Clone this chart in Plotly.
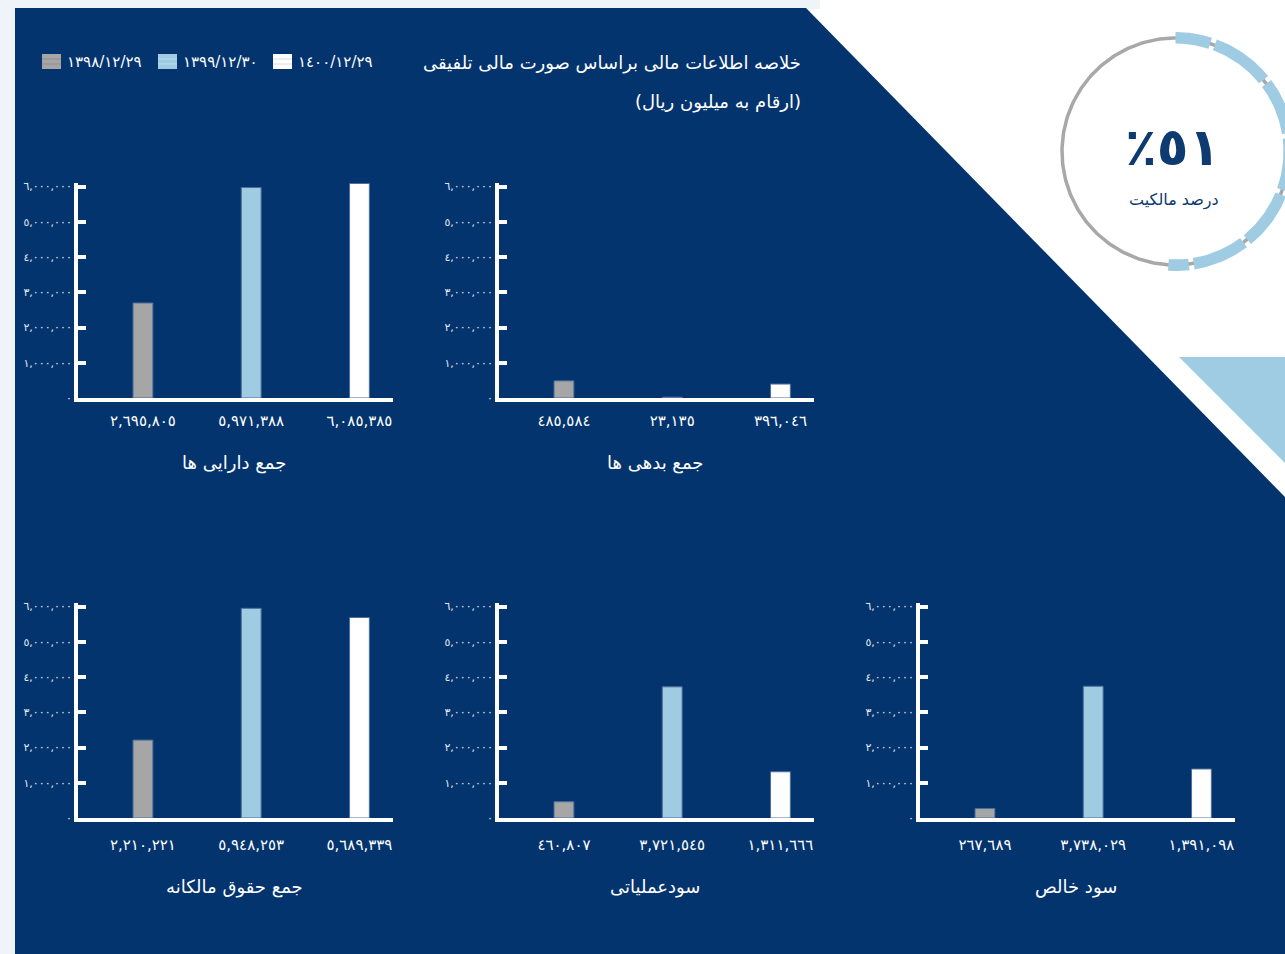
import numpy as np
import plotly.graph_objects as go

W, H = 1285, 954
FONT = "DejaVu Sans"

# ---------------- data ----------------
metrics = ["جمع دارایی ها", "جمع بدهی ها", "جمع حقوق مالکانه", "سودعملیاتی", "سود خالص"]
years = ["١٣٩٨/١٢/٢٩", "١٣٩٩/١٢/٣٠", "١٤٠٠/١٢/٢٩"]
v1398 = [2695805, 485584, 2210221, 460807, 267689]
v1399 = [5971388, 23135, 5948253, 3721545, 3738029]
v1400 = [6085385, 396046, 5689339, 1311666, 1391098]
ytick_vals = [0, 1000000, 2000000, 3000000, 4000000, 5000000, 6000000]
ytick_text = ["٠", "١,٠٠٠,٠٠٠", "٢,٠٠٠,٠٠٠", "٣,٠٠٠,٠٠٠", "٤,٠٠٠,٠٠٠", "٥,٠٠٠,٠٠٠", "٦,٠٠٠,٠٠٠"]
ownership_pct = 51
ownership_label = "٪٥١"
ownership_caption = "درصد مالکیت"
title_line1 = "خلاصه اطلاعات مالی براساس صورت مالی تلفیقی"
title_line2 = "(ارقام به میلیون ریال)"

# ---------------- style ----------------
NAVY = "#03346e"
GRAY = "#a6a6a6"
LBLUE = "#9fcbe3"
WHITE = "#ffffff"
series_colors = [GRAY, LBLUE, WHITE]

AR_DIGITS = str.maketrans("0123456789", "٠١٢٣٤٥٦٧٨٩")


def ar(n):
    return f"{n:,}".translate(AR_DIGITS)


def fx(px):
    return px / W


def fy(py):
    return 1 - py / H


# chart placement (pixels): (axis x, baseline y)
col_x = [76, 497, 918]
row_base = [400, 820]
row_title_off = [63, 67]
row_label_standoff = [6, 10]
positions = [(0, 0), (1, 0), (0, 1), (1, 1), (2, 1)]
PLOT_W = 317
PLOT_H = 215

fig = go.Figure()
layout_axes = {}
annotations = []
shapes = []

# background decorations
shapes.append(dict(type="rect", xref="paper", yref="paper", x0=0, x1=fx(15), y0=0, y1=1,
                   fillcolor="#eef4f8", line_width=0, layer="below"))
shapes.append(dict(type="rect", xref="paper", yref="paper", x0=0, x1=fx(820), y0=fy(9), y1=1,
                   fillcolor="#eef4f8", line_width=0, layer="below"))
navy_pts = [(15, 8), (806, 8), (1285, 497), (1285, 954), (15, 954)]
path = "M " + " L ".join(f"{fx(a):.5f},{fy(b):.5f}" for a, b in navy_pts) + " Z"
shapes.append(dict(type="path", xref="paper", yref="paper", path=path,
                   fillcolor=NAVY, line_width=0, layer="below"))
tri_pts = [(1179, 357), (1285, 357), (1285, 463)]
path = "M " + " L ".join(f"{fx(a):.5f},{fy(b):.5f}" for a, b in tri_pts) + " Z"
shapes.append(dict(type="path", xref="paper", yref="paper", path=path,
                   fillcolor=LBLUE, line_width=0, layer="below"))

for i, (metric, (c, r)) in enumerate(zip(metrics, positions)):
    n = i + 1
    ax = col_x[c]
    base = row_base[r]
    xa = "x" if n == 1 else f"x{n}"
    ya = "y" if n == 1 else f"y{n}"
    vals = [v1398[i], v1399[i], v1400[i]]
    fig.add_trace(go.Bar(
        x=[0, 1, 2], y=vals, xaxis=xa, yaxis=ya, width=0.183,
        marker=dict(color=series_colors, line=dict(color="#4d6f9a", width=1)),
        showlegend=False, hoverinfo="skip",
    ))
    xkey = "xaxis" if n == 1 else f"xaxis{n}"
    ykey = "yaxis" if n == 1 else f"yaxis{n}"
    layout_axes[xkey] = dict(
        domain=[fx(ax + 2), fx(ax + PLOT_W)], anchor=ya, range=[-0.6, 2.31],
        showline=True, linecolor=WHITE, linewidth=4, showgrid=False, zeroline=False,
        ticks="", tickvals=[0, 1, 2], ticktext=[ar(v) for v in vals],
        tickfont=dict(family=FONT, size=15, color=WHITE),
        ticklabelstandoff=row_label_standoff[r],
        fixedrange=True, automargin=False,
    )
    layout_axes[ykey] = dict(
        domain=[fy(base - 2), fy(base - 2 - PLOT_H)], anchor=xa, range=[0, 6100000],
        showline=True, linecolor=WHITE, linewidth=4, showgrid=False, zeroline=False,
        ticks="inside", ticklen=8, tickwidth=4, tickcolor=WHITE,
        tickvals=ytick_vals, ticktext=ytick_text,
        tickfont=dict(family=FONT, size=11, color="#e4e9f0"), fixedrange=True,
        automargin=False,
    )
    annotations.append(dict(
        text=metric, xref="paper", yref="paper", x=fx(ax + 158), y=fy(base + row_title_off[r]),
        xanchor="center", yanchor="middle", showarrow=False,
        font=dict(family=FONT, size=18, color=WHITE),
    ))

# header title
annotations.append(dict(text=title_line1, xref="paper", yref="paper", x=fx(803), y=fy(63),
                        xanchor="right", yanchor="middle", showarrow=False,
                        font=dict(family=FONT, size=18, color=WHITE)))
annotations.append(dict(text=title_line2, xref="paper", yref="paper", x=fx(803), y=fy(102),
                        xanchor="right", yanchor="middle", showarrow=False,
                        font=dict(family=FONT, size=18, color=WHITE)))

# custom legend
legend_x = [42, 158, 273]
stripe_colors = ["#8f8f8f", "#bcdcee", "#d8dde3"]
for lx, col, sc, yr in zip(legend_x, series_colors, stripe_colors, years):
    shapes.append(dict(type="rect", xref="paper", yref="paper", x0=fx(lx), x1=fx(lx + 19),
                       y0=fy(69), y1=fy(54), fillcolor=col, line_width=0))
    for sy in (59, 64):
        shapes.append(dict(type="line", xref="paper", yref="paper", x0=fx(lx), x1=fx(lx + 19),
                           y0=fy(sy), y1=fy(sy), line=dict(color=sc, width=1)))
    annotations.append(dict(text=yr, xref="paper", yref="paper", x=fx(lx + 23), y=fy(62),
                            xanchor="left", yanchor="middle", showarrow=False,
                            font=dict(family=FONT, size=15, color=WHITE)))

# ownership ring (axis units = pixels, origin at ring centre)
cx, cy = 1175.5, 151.5
dom_x = (1056, 1285)
dom_y = (30, 274)
ring_r, r_in, r_out = 113.5, 108, 119.5
t = np.radians(np.linspace(0, 360, 361))
fig.add_trace(go.Scatter(x=ring_r * np.sin(t), y=ring_r * np.cos(t), mode="lines",
                         line=dict(color="#a8a8a8", width=3.5), xaxis="x6", yaxis="y6",
                         showlegend=False, hoverinfo="skip", cliponaxis=False))
end_angle = 360 * ownership_pct / 100
breaks = [19, 52, 82, 111, 142, 172]
gap = 2.5
edges = [0] + breaks + [end_angle]
for k in range(len(edges) - 1):
    a0 = edges[k] + (gap / 2 if k > 0 else 0)
    a1 = edges[k + 1] - (gap / 2 if k < len(edges) - 2 else 0)
    th = np.radians(np.linspace(a0, a1, 40))
    xs = np.concatenate([r_out * np.sin(th), r_in * np.sin(th[::-1])])
    ys = np.concatenate([r_out * np.cos(th), r_in * np.cos(th[::-1])])
    fig.add_trace(go.Scatter(x=np.append(xs, xs[0]), y=np.append(ys, ys[0]), mode="lines",
                             fill="toself", fillcolor=LBLUE, line=dict(width=0, color=LBLUE),
                             xaxis="x6", yaxis="y6", showlegend=False, hoverinfo="skip",
                             cliponaxis=False))
layout_axes["xaxis6"] = dict(domain=[fx(dom_x[0]), fx(dom_x[1])], anchor="y6",
                             range=[dom_x[0] - cx, dom_x[1] - cx], visible=False,
                             fixedrange=True, automargin=False)
layout_axes["yaxis6"] = dict(domain=[fy(dom_y[1]), fy(dom_y[0])], anchor="x6",
                             range=[cy - dom_y[1], cy - dom_y[0]], visible=False,
                             fixedrange=True, automargin=False)
annotations.append(dict(text=ownership_label, xref="paper", yref="paper", x=fx(1172), y=fy(147),
                        xanchor="center", yanchor="middle", showarrow=False,
                        font=dict(family=FONT, size=52, color="#0d3a70", weight="bold")))
annotations.append(dict(text=ownership_caption, xref="paper", yref="paper", x=fx(1174), y=fy(200),
                        xanchor="center", yanchor="middle", showarrow=False,
                        font=dict(family=FONT, size=16, color="#0d3a70")))

fig.update_layout(
    width=W, height=H, autosize=False, margin=dict(l=0, r=0, t=0, b=0, pad=0),
    paper_bgcolor="white", plot_bgcolor="rgba(0,0,0,0)",
    barmode="overlay", showlegend=False,
    shapes=shapes, annotations=annotations,
    font=dict(family=FONT),
    **layout_axes,
)

fig.write_html(
    "out.html",
    config={"displayModeBar": False},
    post_script=(
        "document.documentElement.style.margin='0';"
        "document.body.style.margin='0';"
        "document.body.style.overflow='hidden';"
        "document.body.style.background='" + NAVY + "';"
    ),
)
